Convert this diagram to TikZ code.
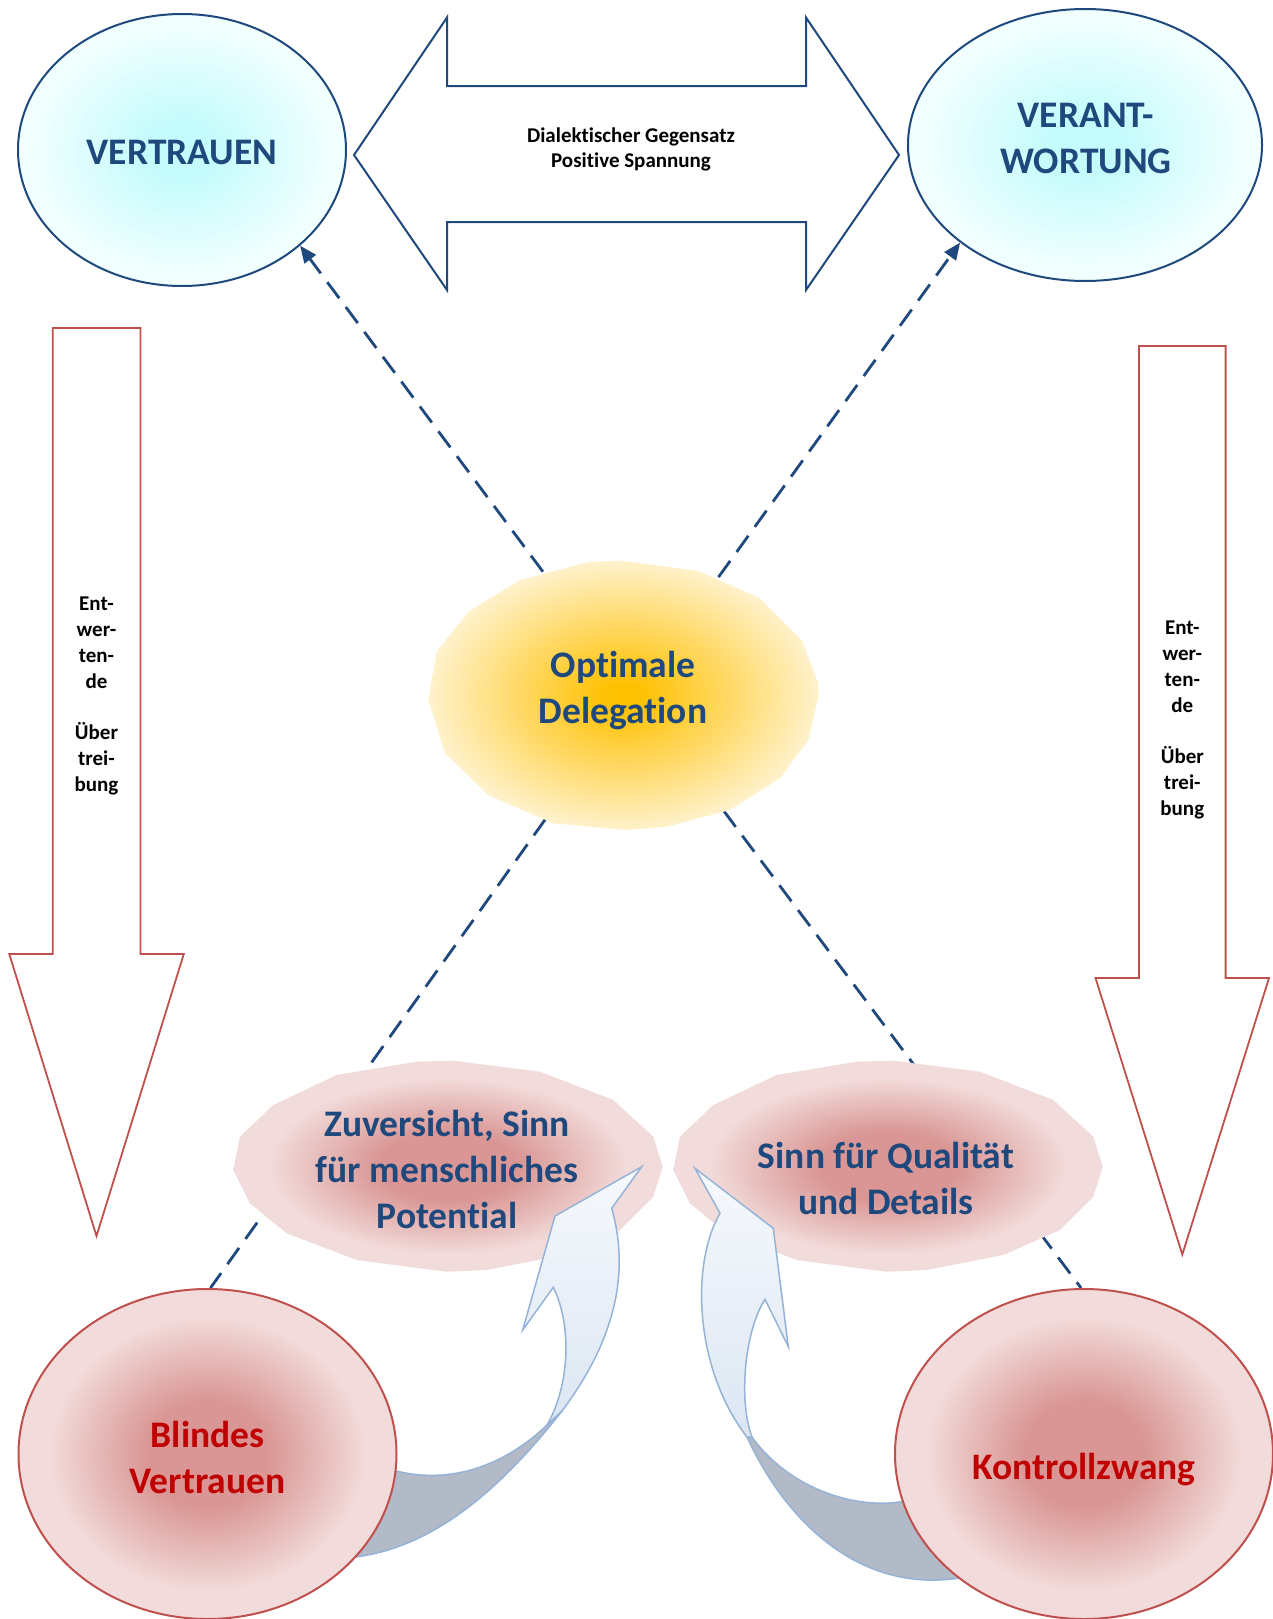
\documentclass[tikz,border=0pt]{standalone}
\usepackage{fontspec}
\setmainfont{Carlito}[Ligatures=NoCommon]
\usetikzlibrary{shapes.geometric,arrows.meta}

\definecolor{navy}{RGB}{31,73,125}
\definecolor{framered}{RGB}{192,80,77}
\definecolor{textred}{RGB}{192,0,0}
\definecolor{cyanC}{RGB}{196,251,252}
\definecolor{cyanE}{RGB}{242,255,255}
\definecolor{goldC}{RGB}{255,192,0}
\definecolor{goldE}{RGB}{255,242,204}
\definecolor{roseC}{RGB}{217,150,148}
\definecolor{roseE}{RGB}{242,220,219}
\definecolor{ribbonEdge}{RGB}{149,179,215}
\definecolor{ribbonTop}{RGB}{246,249,253}
\definecolor{ribbonBot}{RGB}{220,230,242}
\definecolor{ribbonBack}{RGB}{177,186,198}

% the path's bounding box covers the central 50bp square of a shading
\pgfdeclareradialshading{cyanglow}{\pgfpoint{0bp}{0bp}}{color(0bp)=(cyanC); color(5bp)=(cyanC); color(23bp)=(cyanE); color(50bp)=(cyanE)}
\pgfdeclareradialshading{goldglow}{\pgfpoint{0bp}{0bp}}{color(0bp)=(goldC); color(2bp)=(goldC); color(25bp)=(goldE); color(50bp)=(goldE)}
\pgfdeclareradialshading{roseglow}{\pgfpoint{0bp}{0bp}}{color(0bp)=(roseC); color(8bp)=(roseC); color(21bp)=(roseE); color(50bp)=(roseE)}

\pgfdeclarelayer{backdrop}
\pgfdeclarelayer{links}
\pgfdeclarelayer{blobs}
\pgfdeclarelayer{ribbons}
\pgfsetlayers{backdrop,links,blobs,ribbons,main}

\tikzset{
  bigtext/.style={font=\fontsize{37.5}{46}\selectfont\bfseries, align=center, inner sep=0pt},
  smalltext/.style={font=\fontsize{21}{25.8}\selectfont\bfseries, align=center, inner sep=0pt, text=black},
  cyanoval/.style={ellipse, draw=navy, line width=2pt, shade, shading=cyanglow, inner sep=0pt},
  roseoval/.style={ellipse, draw=framered, line width=2pt, shade, shading=roseglow, inner sep=0pt},
  blobanchor/.style={ellipse, inner sep=0pt},
  downarrow/.style={draw=framered, line width=1.8pt, fill=white, line join=miter},
  twoway/.style={draw=navy, line width=2pt, fill=white, line join=miter},
  link/.style={draw=navy, line width=2.8pt, dash pattern=on 20pt off 11pt},
  linktip/.style={-{Triangle[length=17pt,width=14pt]}},
  ribbonface/.style={draw=ribbonEdge, line width=1.5pt, top color=ribbonTop, bottom color=ribbonBot, line join=miter},
  ribbonback/.style={draw=ribbonEdge, line width=1.5pt, fill=ribbonBack},
}

\begin{document}
\begin{tikzpicture}[x=1pt,y=-1pt]
\useasboundingbox (0,0) rectangle (1273,1619);

\begin{pgfonlayer}{backdrop}
  \fill[white] (0,0) rectangle (1273,1619);
  % double-headed arrow between the two poles
  \draw[twoway] (354,155) -- (447,17.5) -- (447,86) -- (806,86) -- (806,17.5)
    -- (899,155) -- (806,290) -- (806,222) -- (447,222) -- (447,290) -- cycle;
  % downward arrows on both sides
  \draw[downarrow] (52.7,328) -- (140.4,328) -- (140.4,954) -- (183.8,954)
    -- (96.5,1236) -- (9.3,954) -- (52.7,954) -- cycle;
  \draw[downarrow] (1139,346) -- (1225.6,346) -- (1225.6,978) -- (1269,978)
    -- (1182.3,1254.5) -- (1095.5,978) -- (1139,978) -- cycle;
\end{pgfonlayer}

\node[smalltext] (tension) at (631,149.5) {Dialektischer Gegensatz\\Positive Spannung};
\node[smalltext] (leftnote) at (96.5,696) {Ent-\\wer-\\ten-\\de\\\mbox{}\\Über\\trei-\\bung};
\node[smalltext] (rightnote) at (1182.3,720) {Ent-\\wer-\\ten-\\de\\\mbox{}\\Über\\trei-\\bung};

% the two poles
\node[cyanoval, minimum width=328, minimum height=272] (vertrauen) at (182,150) {};
\node[bigtext, text=navy] (vertrauenT) at (182,152) {VERTRAUEN};
\node[cyanoval, minimum width=354, minimum height=272] (verant) at (1085,145) {};
\node[bigtext, text=navy] (verantT) at (1086,138) {VERANT-\\WORTUNG};

% the two exaggerations
\node[roseoval, minimum width=378, minimum height=330] (blind) at (207.5,1454) {};
\node[bigtext, text=textred] (blindT) at (207.5,1457) {Blindes\\Vertrauen};
\node[roseoval, minimum width=378, minimum height=330] (kontr) at (1084,1454) {};
\node[bigtext, text=textred] (kontrT) at (1084,1470) {Kontrollzwang};

% central blob and the two strengths
\begin{pgfonlayer}{blobs}
  \path[shade, shading=goldglow] (590,561.7) -- (621.7,560.7) -- (698.3,571) -- (760,598.3)
    -- (801.7,640) -- (818.3,683.3) -- (818.3,696.7) -- (808.3,740) -- (780,778.3)
    -- (730,810) -- (666.7,826.7) -- (626.7,830) -- (553.3,823.3) -- (488.3,795)
    -- (445,753.3) -- (428.3,700) -- (436.7,651.7) -- (468.3,611.7) -- (520,580) -- cycle;
  \path[shade, shading=roseglow] (416.7,1061.7) -- (453.3,1060.7) -- (540,1071.7) -- (613.3,1100)
    -- (653.3,1136.7) -- (662.7,1166.7) -- (653.3,1196.7) -- (620,1230) -- (563.3,1255)
    -- (486.7,1270) -- (446.7,1271.7) -- (356.7,1260) -- (286.7,1233.3) -- (250,1203.3)
    -- (233.3,1170) -- (240,1136.7) -- (273.3,1105) -- (336.7,1075) -- cycle;
  \begin{scope}[xshift=440]
  \path[shade, shading=roseglow] (416.7,1061.7) -- (453.3,1060.7) -- (540,1071.7) -- (613.3,1100)
    -- (653.3,1136.7) -- (662.7,1166.7) -- (653.3,1196.7) -- (620,1230) -- (563.3,1255)
    -- (486.7,1270) -- (446.7,1271.7) -- (356.7,1260) -- (286.7,1233.3) -- (250,1203.3)
    -- (233.3,1170) -- (240,1136.7) -- (273.3,1105) -- (336.7,1075) -- cycle;
  \end{scope}
\end{pgfonlayer}
\node[blobanchor, minimum width=390, minimum height=270] (deleg) at (623,695) {};
\node[bigtext, text=navy] (delegT) at (623,691) {Optimale\\Delegation};
\node[blobanchor, minimum width=430, minimum height=210] (zuver) at (447,1166) {};
\node[bigtext, text=navy] (zuverT) at (447,1169) {Zuversicht, Sinn\\für menschliches\\Potential};
\node[blobanchor, minimum width=430, minimum height=210] (quali) at (887,1166) {};
\node[bigtext, text=navy] (qualiT) at (886,1178) {Sinn für Qualität\\und Details};

% dashed connectors
\begin{pgfonlayer}{links}
  \draw[link, linktip] (deleg.123) -- (vertrauen.-39);
  \draw[link, linktip] (deleg.51) -- (verant.-142.6);
  \draw[link] (deleg.-122) -- (blind.89);
  \draw[link] (deleg.-49) -- (kontr.91);
\end{pgfonlayer}

% curved ribbon arrows from the exaggerations up to the strengths
\begin{pgfonlayer}{ribbons}
  \draw[ribbonback] (345,1558) .. controls (430,1552) and (500,1490) .. (562,1411)
    -- (547,1425) .. controls (500,1470) and (440,1488) .. (380,1466) -- cycle;
  \draw[ribbonface] (562,1411) .. controls (600,1360) and (635,1290) .. (611.7,1208.3)
    -- (641.7,1166.7) -- (555,1216) -- (522.7,1330) -- (553.3,1287.3)
    .. controls (572,1325) and (570,1385) .. (547,1425) -- cycle;
  \draw[ribbonback] (747,1437) .. controls (790,1530) and (870,1600) .. (975,1575)
    -- (910,1500) .. controls (860,1512) and (790,1490) .. (752,1437) -- cycle;
  \draw[ribbonface] (747,1437) .. controls (695,1370) and (690,1265) .. (720,1213.3)
    -- (695,1168.3) -- (773.3,1228.3) -- (788.3,1346.7) -- (765,1299.3)
    .. controls (745,1330) and (738,1400) .. (752,1437) -- cycle;
\end{pgfonlayer}
\end{tikzpicture}
\end{document}
